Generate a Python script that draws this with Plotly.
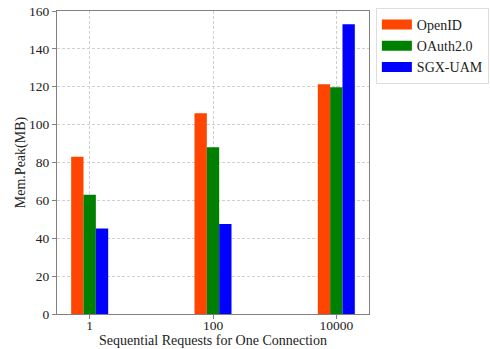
import plotly.graph_objects as go

# Peak memory per scheme for each sequential-request count
categories = ["1", "100", "10000"]
series_names = ["OpenID", "OAuth2.0", "SGX-UAM"]
openid = [83, 106, 121.3]
oauth = [63, 88, 119.7]
sgx = [45.2, 47.5, 153]
y_ticks = [0, 20, 40, 60, 80, 100, 120, 140, 160]

colors = ["#FF4500", "#008000", "#0000FF"]
offsets = [-0.15, -0.05, 0.05]
bar_width = 0.1
font_family = "Liberation Serif"

fig = go.Figure()
xs = list(range(len(categories)))
for name, vals, col, off in zip(series_names, [openid, oauth, sgx], colors, offsets):
    fig.add_trace(go.Bar(
        x=xs, y=vals, name=name, width=bar_width, offset=off,
        marker=dict(color=col, line=dict(width=0)),
        showlegend=False,
    ))
    # wide swatch for the legend entry
    fig.add_trace(go.Scatter(
        x=[None], y=[None], mode="lines", name=name,
        line=dict(color=col, width=10),
    ))

axis_common = dict(
    showline=True, linecolor="#808080", linewidth=1.2, mirror=True,
    ticks="outside", ticklen=4, tickcolor="#808080",
    showgrid=True, gridcolor="#d0d0d0", griddash="3px,2px", gridwidth=0.8,
    zeroline=False, layer="above traces", automargin=False,
    tickfont=dict(family=font_family, size=13.5, color="#222222"),
)

fig.update_layout(
    width=490, height=349,
    margin=dict(l=57, r=121, t=11, b=35, autoexpand=False),
    paper_bgcolor="white", plot_bgcolor="white",
    barmode="overlay",
    font=dict(family=font_family, size=14, color="#222222"),
    xaxis=dict(
        range=[-0.265, 2.265], tickvals=xs, ticktext=categories,
        ticklabelstandoff=-5,
        title=dict(text="Sequential Requests for One Connection",
                   font=dict(family=font_family, size=14), standoff=0),
        **axis_common,
    ),
    yaxis=dict(
        range=[0, 160], tickvals=y_ticks,
        title=dict(text="Mem.Peak(MB)", font=dict(family=font_family, size=14), standoff=0),
        **axis_common,
    ),
    legend=dict(
        x=1.022, y=1.01, xanchor="left", yanchor="top",
        bordercolor="#dddddd", borderwidth=1, bgcolor="white",
        font=dict(family=font_family, size=14, color="#222222"),
        itemwidth=30, tracegroupgap=0,
    ),
)

fig.write_html("out.html")
